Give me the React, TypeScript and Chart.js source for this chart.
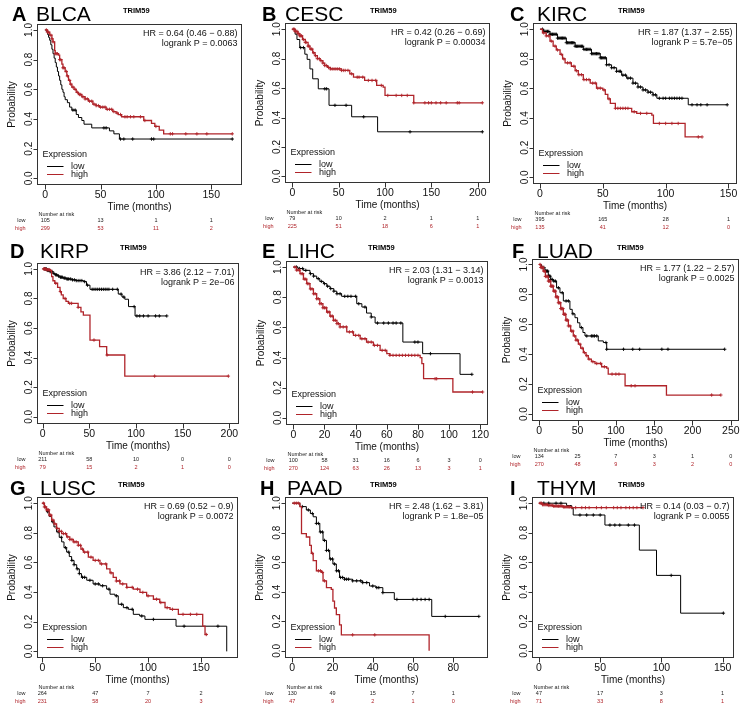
import React, { useEffect, useRef } from 'react';
import { Chart, registerables } from 'chart.js';
Chart.register(...registerables);

type Pt = [number, number];

const FONT = '"Liberation Sans", Arial, Helvetica, sans-serif';
const RED = '#b0242a';
const GENE = 'TRIM59';
const Y_TICKS = [0, 0.2, 0.4, 0.6, 0.8, 1.0];

// ---------- A BLCA ----------
const BLCA_LOW: Pt[] = [[0,1],[1,0.99],[2,0.97],[3,0.95],[4,0.93],[5,0.9],[6,0.87],[7,0.84],[8,0.81],[9,0.78],[10,0.75],[11,0.72],[12,0.69],[13,0.66],[14,0.63],[15,0.6],[16,0.58],[17,0.55],[18,0.53],[20,0.51],[22,0.48],[24,0.46],[28,0.43],[30,0.41],[33,0.39],[35,0.365],[42,0.34],[58,0.32],[62,0.3],[67,0.265],[169,0.265]];
const BLCA_HIGH: Pt[] = [[0,1],[2,0.985],[4,0.965],[6,0.94],[7,0.92],[8.5,0.86],[9,0.84],[12,0.83],[13,0.8],[15,0.77],[16,0.745],[18,0.72],[19.5,0.69],[21,0.66],[22.5,0.635],[24,0.615],[26,0.6],[28,0.58],[30,0.565],[33,0.55],[36,0.535],[39,0.52],[43,0.5],[46,0.49],[49,0.48],[55,0.465],[61,0.45],[64,0.44],[66,0.43],[69,0.415],[89,0.39],[96,0.37],[99,0.35],[103,0.325],[107,0.3],[169,0.3]];
const BLCA_LOW_CENS = [25,27,53,55,68,71,79,96,98,169];
const BLCA_HIGH_CENS = [1,2,3,5,6,7,9,10,11,13,14,16,17,19,20,22,23,25,27,29,31,32,34,36,38,40,42,44,46,48,50,52,54,56,58,60,62,65,68,72,74,77,80,86,90,100,113,115,127,137,146,169];
const BLCA_TICKS = [0,50,100,150];
const BLCA_RISK_LOW = [105,13,1,1];
const BLCA_RISK_HIGH = [299,53,11,2];

// ---------- B CESC ----------
const CESC_LOW: Pt[] = [[0,1],[3,0.966],[5,0.93],[8,0.875],[13.5,0.83],[16,0.795],[19,0.73],[22,0.663],[28,0.595],[39.6,0.483],[64,0.405],[92,0.303],[205,0.303]];
const CESC_HIGH: Pt[] = [[0,1],[3,0.985],[6,0.97],[8,0.955],[11,0.93],[14,0.91],[17,0.885],[19,0.865],[22,0.84],[24.5,0.82],[27,0.8],[30,0.786],[33,0.77],[35,0.753],[38,0.74],[41,0.73],[53,0.72],[62,0.697],[66,0.674],[78,0.652],[91,0.618],[98,0.607],[100,0.55],[131,0.5],[205,0.5]];
const CESC_LOW_CENS = [9,12,35,37,46,58,77,127,205];
const CESC_HIGH_CENS = [1,2,3,4,5,6,7,8,9,10,12,14,15,17,18,20,21,23,25,27,29,31,33,35,37,39,41,43,45,47,49,51,53,55,57,60,64,70,72,76,82,86,90,96,103,112,118,124,131,143,147,150,155,160,166,178,180,205];
const CESC_TICKS = [0,50,100,150,200];
const CESC_RISK_LOW = [79,10,2,1,1];
const CESC_RISK_HIGH = [225,51,18,6,1];

// ---------- C KIRC ----------
const KIRC_LOW: Pt[] = [[0,1],[3,0.985],[8,0.966],[14,0.94],[21,0.909],[28,0.885],[34.5,0.864],[41,0.835],[48,0.807],[53,0.76],[57,0.74],[61,0.716],[65,0.69],[69,0.67],[74,0.636],[78,0.61],[82,0.59],[86,0.575],[90,0.557],[93,0.534],[118,0.49],[149,0.49]];
const KIRC_HIGH: Pt[] = [[0,1],[2,0.975],[5,0.955],[8,0.92],[10.5,0.886],[13,0.86],[16,0.83],[18,0.8],[20,0.773],[25,0.75],[28,0.72],[30.5,0.693],[34.5,0.66],[40,0.636],[45,0.602],[50,0.59],[52,0.56],[54,0.53],[56,0.5],[60,0.466],[73,0.443],[77,0.432],[89,0.42],[90.3,0.364],[115.5,0.273],[128.7,0.273]];
const KIRC_LOW_CENS = [2,3,4,5,6,7,8,9,10,11,12,13,14,15,16,17,18,19,20,21,22,23,24,25,26,27,28,29,30,31,32,33,34,35,36,37,38,39,40,41,42,43,44,45,46,47,48,49,50,51,52,53,55,57,59,61,63,64,66,68,70,72,74,76,78,80,82,84,86,88,90,92,95,98,100,103,105,107,109,111,113,121,125,128,133,149];
const KIRC_HIGH_CENS = [3,5,7,9,12,14,17,19,22,24,27,29,31,33,35,37,39,42,44,46,48,51,55,60,62,64,66,68,70,75,80,85,95,100,105,110,126,129];
const KIRC_TICKS = [0,50,100,150];
const KIRC_RISK_LOW = [395,165,28,1];
const KIRC_RISK_HIGH = [135,41,12,0];

// ---------- D KIRP ----------
const KIRP_LOW: Pt[] = [[0,1],[5,0.99],[8,0.982],[11,0.97],[13,0.96],[16,0.952],[18.6,0.944],[22,0.938],[25.7,0.932],[31,0.926],[36,0.921],[43.6,0.914],[47,0.89],[50.7,0.862],[81,0.83],[85,0.81],[88,0.795],[92,0.745],[99,0.682],[133,0.682]];
const KIRP_HIGH: Pt[] = [[0,1],[4,0.995],[8,0.99],[9.6,0.948],[11,0.92],[13,0.903],[16,0.875],[18.6,0.847],[20,0.825],[22,0.8],[25,0.78],[27.5,0.767],[38,0.74],[41,0.71],[43.6,0.688],[50.7,0.519],[61,0.474],[68.6,0.418],[88,0.275],[199,0.275]];
const KIRP_LOW_CENS = [2,3,4,5,6,7,8,9,10,12,14,15,17,19,20,21,23,24,26,27,28,30,32,34,36,38,40,42,45,48,53,55,57,59,61,63,65,67,69,71,75,80,84,87,98,101,104,108,113,121,125,133];
const KIRP_HIGH_CENS = [1,2,3,4,5,6,7,8,14,19,24,29,31,38,55,69,120,199];
const KIRP_TICKS = [0,50,100,150,200];
const KIRP_RISK_LOW = [211,58,10,0,0];
const KIRP_RISK_HIGH = [79,15,2,1,0];

// ---------- E LIHC ----------
const LIHC_LOW: Pt[] = [[0,1],[3,0.99],[6.4,0.978],[10.7,0.956],[13,0.94],[15,0.923],[17,0.905],[19.3,0.89],[21.5,0.873],[23.6,0.857],[26,0.84],[27.9,0.823],[31,0.806],[40.7,0.757],[44,0.735],[47,0.695],[50,0.669],[52.5,0.629],[70.3,0.503],[83,0.426],[107,0.289],[114.6,0.289]];
const LIHC_HIGH: Pt[] = [[0,1],[2,0.98],[4.3,0.956],[6.5,0.92],[8.6,0.89],[10.7,0.855],[12.9,0.823],[15,0.79],[17,0.757],[19,0.73],[21.4,0.702],[23.5,0.675],[25.7,0.647],[28,0.625],[30,0.603],[34.3,0.57],[38.6,0.547],[42.9,0.525],[47,0.503],[51.4,0.481],[55.7,0.448],[60,0.426],[62,0.415],[81.4,0.4],[82.5,0.36],[83.6,0.26],[102.4,0.172],[121.5,0.172]];
const LIHC_LOW_CENS = [2,4,6,8,11,13,16,18,20,22,24,26,28,30,33,35,37,40,42,46,50,54,58,61,64,66,69,78,80,88,114.6];
const LIHC_HIGH_CENS = [1,2,3,4,5,6,7,8,9,10,11,12,13,14,15,16,17,18,19,20,21,22,23,24,25,26,27,28,29,30,32,34,36,38,40,42,44,46,48,50,52,54,57,59,62,64,66,68,70,72,74,76,78,80,91,92,115,121.5];
const LIHC_TICKS = [0,20,40,60,80,100,120];
const LIHC_RISK_LOW = [100,58,31,16,6,3,0];
const LIHC_RISK_HIGH = [270,124,63,26,13,3,1];

// ---------- F LUAD ----------
const LUAD_LOW: Pt[] = [[0,1],[3,0.98],[7.4,0.956],[11.8,0.922],[15,0.9],[18.3,0.889],[22.6,0.844],[27,0.811],[31.4,0.756],[40,0.7],[43,0.67],[46.6,0.644],[50,0.61],[53,0.578],[57,0.545],[59.7,0.522],[77,0.489],[83.6,0.478],[88,0.433],[242,0.433]];
const LUAD_HIGH: Pt[] = [[0,1],[2,0.98],[5.2,0.956],[8,0.92],[11.8,0.889],[15,0.855],[18.3,0.822],[21.5,0.783],[24.8,0.744],[28,0.705],[31.4,0.667],[34.7,0.628],[38,0.589],[41,0.555],[44.4,0.522],[47.7,0.494],[51,0.467],[54,0.44],[57.5,0.411],[61,0.39],[64,0.367],[68,0.35],[72.7,0.338],[81.4,0.316],[88,0.307],[90,0.267],[112,0.189],[166,0.127],[237,0.127]];
const LUAD_LOW_CENS = [4,6,8,9,10,11,12,13,14,15,17,19,21,25,30,35,38,44,55,62,68,70,72,75,87,88,110,122,131,160,168,242];
const LUAD_HIGH_CENS = [1,2,3,4,5,6,7,8,9,10,11,12,13,14,15,16,17,18,19,20,21,22,23,24,25,26,27,28,29,30,31,32,33,34,35,36,37,38,40,42,44,46,48,50,53,56,59,62,65,70,75,80,85,95,100,104,120,125,225,237];
const LUAD_TICKS = [0,50,100,150,200,250];
const LUAD_RISK_LOW = [134,25,7,3,1,0];
const LUAD_RISK_HIGH = [270,48,9,3,2,0];

// ---------- G LUSC ----------
const LUSC_LOW: Pt[] = [[0,1],[2,0.97],[4,0.943],[6.5,0.91],[8.8,0.875],[11,0.84],[13.5,0.807],[16,0.77],[18.3,0.739],[20.5,0.7],[23,0.67],[25.5,0.64],[27.7,0.614],[30,0.585],[32.5,0.557],[35,0.525],[37,0.5],[42,0.48],[48,0.455],[54.5,0.443],[60.8,0.42],[64,0.386],[68.7,0.375],[71.8,0.318],[76.6,0.295],[81.3,0.284],[86,0.25],[92,0.239],[97,0.216],[126.4,0.17],[174.3,0]];
const LUSC_HIGH: Pt[] = [[0,1],[2,0.975],[4,0.955],[6.5,0.92],[8.8,0.886],[11,0.86],[13.5,0.83],[16,0.81],[18.3,0.795],[23,0.773],[26,0.755],[29.3,0.739],[34,0.716],[36.5,0.69],[38.8,0.67],[43.5,0.636],[48,0.614],[54.5,0.59],[60.8,0.557],[64,0.53],[67,0.5],[70,0.475],[73.4,0.455],[79.7,0.432],[86,0.42],[92.3,0.398],[98.6,0.375],[105,0.352],[111,0.33],[116,0.295],[120.7,0.284],[128.6,0.25],[151.6,0.17],[153.8,0.114],[156,0.114]];
const LUSC_LOW_CENS = [5,10,15,18,22,25,28,30,33,35,38,40,45,50,53,57,63,70,75,80,85,94,105,134,166];
const LUSC_HIGH_CENS = [1,2,3,4,5,6,7,8,10,12,14,16,18,20,22,24,26,28,30,32,34,36,38,40,43,46,50,53,56,60,65,70,73,76,80,85,90,95,100,108,112,118,123,133,140,146,155];
const LUSC_TICKS = [0,50,100,150];
const LUSC_RISK_LOW = [264,47,7,2];
const LUSC_RISK_HIGH = [231,58,20,3];

// ---------- H PAAD ----------
const PAAD_LOW: Pt[] = [[0,1],[3.8,0.977],[7,0.954],[9,0.93],[10.4,0.908],[12,0.863],[13.7,0.805],[15.3,0.748],[17,0.68],[18.6,0.622],[20.2,0.588],[21.9,0.542],[23.5,0.497],[26,0.485],[30,0.474],[35,0.462],[38.4,0.439],[41.6,0.428],[45,0.394],[50.7,0.348],[69.3,0.233],[92.7,0.233]];
const PAAD_HIGH: Pt[] = [[0,1],[3.8,0.977],[4.6,0.794],[7,0.771],[8.7,0.714],[9.5,0.66],[10.4,0.611],[12,0.542],[14.5,0.531],[15.3,0.474],[17,0.428],[19.4,0.416],[20.2,0.336],[21,0.29],[21.9,0.245],[23.5,0.176],[24.4,0.108],[68,0]];
const PAAD_LOW_CENS = [5,8,10,12,13,14,15,16,17,18,19,20,21,22,23,24,25,26,27,28,30,32,34,35,37,40,42,43,45,52,60,62,64,66,68,76,92.7];
const PAAD_HIGH_CENS = [1,2,3,10,13,14,15,16,30,41];
const PAAD_TICKS = [0,20,40,60,80];
const PAAD_RISK_LOW = [130,49,15,7,1];
const PAAD_RISK_HIGH = [47,9,2,1,0];

// ---------- I THYM ----------
const THYM_LOW: Pt[] = [[0,1],[22.6,0.984],[26.7,0.966],[28,0.92],[53.9,0.852],[82,0.682],[96,0.511],[115.7,0.255],[150.6,0.255]];
const THYM_HIGH: Pt[] = [[0,1],[3,0.99],[8,0.985],[12,0.98],[20,0.975],[26,0.97],[85,0.97]];
const THYM_LOW_CENS = [4,8,14,18,33.5,39,44.4,50,58,62,66,73,78,108,150.6];
const THYM_HIGH_CENS = [1,2,3,4,5,6,7,8,9,10,11,12,13,14,15,16,17,18,19,20,21,22,23,24,25,27,30,35,38,41,47,51,55,61,64,67,71,74,77,80,85];
const THYM_TICKS = [0,50,100,150];
const THYM_RISK_LOW = [47,17,3,1];
const THYM_RISK_HIGH = [71,33,8,1];

const PANELS = [
  { letter: 'A', name: 'BLCA', hr: 'HR = 0.64 (0.46 \u2212 0.88)', p: 'logrank P = 0.0063', low: BLCA_LOW, high: BLCA_HIGH, lowCens: BLCA_LOW_CENS, highCens: BLCA_HIGH_CENS, ticks: BLCA_TICKS, riskLow: BLCA_RISK_LOW, riskHigh: BLCA_RISK_HIGH },
  { letter: 'B', name: 'CESC', hr: 'HR = 0.42 (0.26 \u2212 0.69)', p: 'logrank P = 0.00034', low: CESC_LOW, high: CESC_HIGH, lowCens: CESC_LOW_CENS, highCens: CESC_HIGH_CENS, ticks: CESC_TICKS, riskLow: CESC_RISK_LOW, riskHigh: CESC_RISK_HIGH },
  { letter: 'C', name: 'KIRC', hr: 'HR = 1.87 (1.37 \u2212 2.55)', p: 'logrank P = 5.7e\u221205', low: KIRC_LOW, high: KIRC_HIGH, lowCens: KIRC_LOW_CENS, highCens: KIRC_HIGH_CENS, ticks: KIRC_TICKS, riskLow: KIRC_RISK_LOW, riskHigh: KIRC_RISK_HIGH },
  { letter: 'D', name: 'KIRP', hr: 'HR = 3.86 (2.12 \u2212 7.01)', p: 'logrank P = 2e\u221206', low: KIRP_LOW, high: KIRP_HIGH, lowCens: KIRP_LOW_CENS, highCens: KIRP_HIGH_CENS, ticks: KIRP_TICKS, riskLow: KIRP_RISK_LOW, riskHigh: KIRP_RISK_HIGH },
  { letter: 'E', name: 'LIHC', hr: 'HR = 2.03 (1.31 \u2212 3.14)', p: 'logrank P = 0.0013', low: LIHC_LOW, high: LIHC_HIGH, lowCens: LIHC_LOW_CENS, highCens: LIHC_HIGH_CENS, ticks: LIHC_TICKS, riskLow: LIHC_RISK_LOW, riskHigh: LIHC_RISK_HIGH },
  { letter: 'F', name: 'LUAD', hr: 'HR = 1.77 (1.22 \u2212 2.57)', p: 'logrank P = 0.0025', low: LUAD_LOW, high: LUAD_HIGH, lowCens: LUAD_LOW_CENS, highCens: LUAD_HIGH_CENS, ticks: LUAD_TICKS, riskLow: LUAD_RISK_LOW, riskHigh: LUAD_RISK_HIGH },
  { letter: 'G', name: 'LUSC', hr: 'HR = 0.69 (0.52 \u2212 0.9)', p: 'logrank P = 0.0072', low: LUSC_LOW, high: LUSC_HIGH, lowCens: LUSC_LOW_CENS, highCens: LUSC_HIGH_CENS, ticks: LUSC_TICKS, riskLow: LUSC_RISK_LOW, riskHigh: LUSC_RISK_HIGH },
  { letter: 'H', name: 'PAAD', hr: 'HR = 2.48 (1.62 \u2212 3.81)', p: 'logrank P = 1.8e\u221205', low: PAAD_LOW, high: PAAD_HIGH, lowCens: PAAD_LOW_CENS, highCens: PAAD_HIGH_CENS, ticks: PAAD_TICKS, riskLow: PAAD_RISK_LOW, riskHigh: PAAD_RISK_HIGH },
  { letter: 'I', name: 'THYM', hr: 'HR = 0.14 (0.03 \u2212 0.7)', p: 'logrank P = 0.0055', low: THYM_LOW, high: THYM_HIGH, lowCens: THYM_LOW_CENS, highCens: THYM_HIGH_CENS, ticks: THYM_TICKS, riskLow: THYM_RISK_LOW, riskHigh: THYM_RISK_HIGH },
];

// layout per panel: plot box (left, top, right, bottom) inside a 250x237 tile, x range, title x positions
const LAYOUT = [
  { box: [37.3, 24, 240.7, 184.3], xr: [-7.2, 176.6], letterX: 12, nameX: 36, trimX: 123 },
  { box: [35, 23.3, 239.3, 182.3], xr: [-7.9, 212.5], letterX: 12, nameX: 35, trimX: 120 },
  { box: [33.3, 23.3, 236, 183.3], xr: [-5.3, 156], letterX: 10, nameX: 37, trimX: 118 },
  { box: [36.7, 26, 237.7, 185.7], xr: [-6.4, 209], letterX: 10, nameX: 40, trimX: 120 },
  { box: [36, 24, 237.3, 187], xr: [-4.7, 124.5], letterX: 12, nameX: 37, trimX: 118 },
  { box: [32.3, 21.5, 237.7, 183], xr: [-9.1, 259], letterX: 12, nameX: 37, trimX: 117 },
  { box: [36.7, 23.3, 237.3, 183.3], xr: [-5.3, 184.3], letterX: 10, nameX: 40, trimX: 118 },
  { box: [35, 23.3, 237.3, 182.7], xr: [-3.6, 96.9], letterX: 10, nameX: 37, trimX: 120 },
  { box: [32.3, 23.3, 233.3, 182.7], xr: [-5.4, 158.7], letterX: 10, nameX: 37, trimX: 118 },
];

const TILE_W = 250;
const TILE_H = 237;

function survAt(curve: Pt[], t: number): number {
  let s = curve[0][1];
  for (const [ti, si] of curve) {
    if (ti <= t) s = si; else break;
  }
  return s;
}

function KMPanel({ idx }: { idx: number }) {
  const ref = useRef<HTMLCanvasElement>(null);
  const panel = PANELS[idx];
  const lay = LAYOUT[idx];
  useEffect(() => {
    const canvas = ref.current!;
    const [bl, bt, br, bb] = lay.box;
    const plugin = {
      id: 'kmDecor' + idx,
      afterDraw(chart: any) {
        const { ctx, chartArea: a } = chart;
        const xs = chart.scales.x;
        const ys = chart.scales.y;
        const L = Math.round(a.left) + 0.5;
        const T = Math.round(a.top) + 0.5;
        const R = Math.round(a.right) + 0.5;
        const B = Math.round(a.bottom) + 0.5;
        ctx.save();
        ctx.lineWidth = 1;
        ctx.strokeStyle = '#333';
        ctx.strokeRect(L, T, R - L, B - T);
        // x ticks
        ctx.beginPath();
        for (const v of panel.ticks) {
          const x = Math.round(xs.getPixelForValue(v)) + 0.5;
          ctx.moveTo(x, B);
          ctx.lineTo(x, B + 5);
        }
        ctx.stroke();
        ctx.fillStyle = '#111';
        ctx.font = `10.5px ${FONT}`;
        ctx.textAlign = 'center';
        ctx.textBaseline = 'alphabetic';
        for (const v of panel.ticks) {
          ctx.fillText(String(v), xs.getPixelForValue(v), B + 13.5);
        }
        // y ticks
        ctx.beginPath();
        for (const v of Y_TICKS) {
          const y = Math.round(ys.getPixelForValue(v)) + 0.5;
          ctx.moveTo(L - 4, y);
          ctx.lineTo(L, y);
        }
        ctx.stroke();
        ctx.font = `10px ${FONT}`;
        for (const v of Y_TICKS) {
          ctx.save();
          ctx.translate(L - 5.5, ys.getPixelForValue(v));
          ctx.rotate(-Math.PI / 2);
          ctx.fillText(v.toFixed(1), 0, 0);
          ctx.restore();
        }
        // axis titles
        ctx.font = `10px ${FONT}`;
        ctx.fillText('Time (months)', (L + R) / 2, B + 25);
        ctx.save();
        ctx.translate(L - 23, (T + B) / 2);
        ctx.rotate(-Math.PI / 2);
        ctx.fillText('Probability', 0, 0);
        ctx.restore();
        // HR text
        ctx.font = `9px ${FONT}`;
        ctx.textAlign = 'right';
        ctx.fillText(panel.hr, R - 4, T + 11);
        ctx.fillText(panel.p, R - 4, T + 21.5);
        // legend
        ctx.textAlign = 'left';
        ctx.fillText('Expression', L + 5, B - 27.5);
        ctx.strokeStyle = '#000';
        ctx.beginPath();
        ctx.moveTo(L + 9.5, Math.round(B - 18.5) + 0.5);
        ctx.lineTo(L + 26, Math.round(B - 18.5) + 0.5);
        ctx.stroke();
        ctx.strokeStyle = RED;
        ctx.beginPath();
        ctx.moveTo(L + 9.5, Math.round(B - 10.3) + 0.5);
        ctx.lineTo(L + 26, Math.round(B - 10.3) + 0.5);
        ctx.stroke();
        ctx.fillText('low', L + 33.5, B - 15.8);
        ctx.fillText('high', L + 33.5, B - 7.6);
        // risk table
        ctx.font = `5.5px ${FONT}`;
        ctx.fillStyle = '#222';
        ctx.fillText('Number at risk', L + 1, B + 31.5);
        ctx.textAlign = 'right';
        ctx.fillText('low', L - 12, B + 37.5);
        ctx.fillStyle = RED;
        ctx.fillText('high', L - 12, B + 45);
        ctx.textAlign = 'center';
        panel.ticks.forEach((v, i) => {
          const x = xs.getPixelForValue(v);
          ctx.fillStyle = '#222';
          ctx.fillText(String(panel.riskLow[i]), x, B + 37.5);
          ctx.fillStyle = RED;
          ctx.fillText(String(panel.riskHigh[i]), x, B + 45);
        });
        // titles
        ctx.fillStyle = '#000';
        ctx.textAlign = 'left';
        ctx.font = `bold 20px ${FONT}`;
        ctx.fillText(panel.letter, lay.letterX, 20.5);
        ctx.font = `21px ${FONT}`;
        ctx.fillText(panel.name, lay.nameX, 20.5);
        ctx.font = `bold 7.5px ${FONT}`;
        ctx.fillText(GENE, lay.trimX, 12.5);
        ctx.restore();
      },
    };

    const toXY = (c: Pt[]) => c.map(([x, y]) => ({ x, y }));
    const cens = (c: Pt[], ts: number[]) => ts.map((t) => ({ x: t, y: survAt(c, t) }));

    const chart = new Chart(canvas, {
      type: 'line',
      data: {
        datasets: [
          { label: 'high censored', data: cens(panel.high, panel.highCens), showLine: false, pointStyle: 'cross', pointRadius: 1.7, pointBorderColor: RED, pointBorderWidth: 0.9, pointBackgroundColor: RED, borderColor: RED },
          { label: 'high', data: toXY(panel.high), stepped: 'before', borderColor: RED, borderWidth: 1.3, pointRadius: 0, fill: false },
          { label: 'low censored', data: cens(panel.low, panel.lowCens), showLine: false, pointStyle: 'cross', pointRadius: 1.7, pointBorderColor: '#000', pointBorderWidth: 0.9, pointBackgroundColor: '#000', borderColor: '#000' },
          { label: 'low', data: toXY(panel.low), stepped: 'before', borderColor: '#000', borderWidth: 1, pointRadius: 0, fill: false },
        ],
      } as any,
      options: {
        animation: false,
        responsive: false,
        devicePixelRatio: 1,
        events: [],
        layout: { padding: { left: bl, top: bt, right: TILE_W - br, bottom: TILE_H - bb } },
        scales: {
          x: { type: 'linear', min: lay.xr[0], max: lay.xr[1], display: false },
          y: { type: 'linear', min: -0.04, max: 1.04, display: false },
        },
        plugins: { legend: { display: false }, tooltip: { enabled: false }, title: { display: false } },
      } as any,
      plugins: [plugin],
    });
    return () => chart.destroy();
  }, []);
  const col = idx % 3;
  const row = Math.floor(idx / 3);
  return (
    <canvas
      ref={ref}
      width={TILE_W}
      height={TILE_H}
      style={{ position: 'absolute', left: col * TILE_W, top: row * TILE_H, width: TILE_W, height: TILE_H }}
    />
  );
}

export default function App() {
  return (
    <div style={{ position: 'absolute', left: 0, top: 0, width: 750, height: 711, background: '#fff', overflow: 'hidden' }}>
      {PANELS.map((_, i) => (
        <KMPanel key={i} idx={i} />
      ))}
    </div>
  );
}
